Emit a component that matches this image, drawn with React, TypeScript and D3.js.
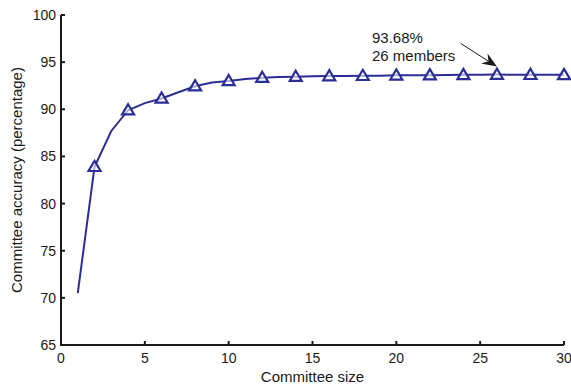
import React from "react";
import * as d3 from "d3";

// Committee size (members) and measured accuracy (%)
const committeeSizes = [1, 2, 3, 4, 5, 6, 7, 8, 9, 10, 11, 12, 13, 14, 15, 16, 17, 18, 19, 20, 21, 22, 23, 24, 25, 26, 27, 28, 29, 30];
const accuracy = [70.5, 83.9, 87.7, 89.9, 90.65, 91.15, 91.8, 92.45, 92.85, 93.0, 93.2, 93.35, 93.42, 93.45, 93.5, 93.52, 93.54, 93.55, 93.57, 93.6, 93.61, 93.62, 93.63, 93.65, 93.66, 93.68, 93.67, 93.66, 93.65, 93.65];
const xTicks = [0, 5, 10, 15, 20, 25, 30];
const yTicks = [65, 70, 75, 80, 85, 90, 95, 100];
const bestLabel = ["93.68%", "26 members"];
const bestSize = 26;

const W = 571;
const H = 385;
const margin = { left: 61, right: 7, top: 15, bottom: 40 };

export default function App() {
  const x = d3.scaleLinear().domain([0, 30]).range([margin.left, W - margin.right]);
  const y = d3.scaleLinear().domain([65, 100]).range([H - margin.bottom, margin.top]);
  const pts = committeeSizes.map((s, i) => [s, accuracy[i]] as [number, number]);
  const line = d3.line<[number, number]>().x((d) => x(d[0])).y((d) => y(d[1]));
  const markers = pts.filter((d) => d[0] % 2 === 0);
  const color = "#2b2e94";
  const ink = "#1a1a1a";
  const font = "Liberation Sans, Arial, Helvetica, sans-serif";
  const tri = (cx: number, cy: number) => {
    const r = 6;
    return `M${cx},${cy - r}L${cx + r},${cy + r * 0.7}L${cx - r},${cy + r * 0.7}Z`;
  };

  // arrow pointing at the best committee
  const bestIdx = committeeSizes.indexOf(bestSize);
  const bx = x(bestSize);
  const by = y(accuracy[bestIdx]) - 8;
  const ax0 = bx - 36;
  const ay0 = by - 23;
  const ang = Math.atan2(by - ay0, bx - ax0);
  const cos = Math.cos(ang);
  const sin = Math.sin(ang);
  const headLen = 15;
  const notch = 10;
  const headW = 6;
  const hx = bx - headLen * cos;
  const hy = by - headLen * sin;
  const nx = bx - notch * cos;
  const ny = by - notch * sin;
  const px = -sin * headW;
  const py = cos * headW;

  const x0 = x(0);
  const y0 = y(65);

  return (
    <svg width={W} height={H} style={{ position: "absolute", left: 0, top: 0 }} fontFamily={font}>
      <rect width={W} height={H} fill="#fff" />
      {/* axes */}
      <line x1={x0} x2={x(30)} y1={y0} y2={y0} stroke={ink} strokeWidth={2} />
      <line x1={x0} x2={x0} y1={y0 + 1} y2={y(100)} stroke={ink} strokeWidth={2} />
      {xTicks.map((t) => (
        <g key={"x" + t}>
          <line x1={x(t)} x2={x(t)} y1={y0} y2={y0 - 4} stroke={ink} strokeWidth={2} />
          <text x={x(t)} y={y0 + 18} textAnchor="middle" fontSize={14} fill={ink}>{t}</text>
        </g>
      ))}
      {yTicks.map((t) => (
        <g key={"y" + t}>
          <line x1={x0} x2={x0 + 4} y1={y(t)} y2={y(t)} stroke={ink} strokeWidth={2} />
          <text x={x0 - 5} y={y(t) + 5} textAnchor="end" fontSize={14} fill={ink}>{t}</text>
        </g>
      ))}
      <text x={(x0 + x(30)) / 2} y={H - 3} textAnchor="middle" fontSize={15} fill={ink}>Committee size</text>
      <text transform={`translate(22,${(y0 + y(100)) / 2}) rotate(-90)`} textAnchor="middle" fontSize={15} fill={ink}>
        Committee accuracy (percentage)
      </text>
      {/* accuracy curve */}
      <path d={line(pts) ?? ""} fill="none" stroke={color} strokeWidth={2} />
      {markers.map((d) => (
        <path key={d[0]} d={tri(x(d[0]), y(d[1]))} fill="#fff" fillOpacity={0.6} stroke={color} strokeWidth={2.2} strokeLinejoin="miter" />
      ))}
      {/* best committee annotation */}
      <text x={372} y={43} fontSize={15} fill={ink}>
        <tspan x={372}>{bestLabel[0]}</tspan>
        <tspan x={372} dy={18}>{bestLabel[1]}</tspan>
      </text>
      <line x1={ax0} y1={ay0} x2={nx} y2={ny} stroke={ink} strokeWidth={1} />
      <path d={`M${bx},${by}L${hx + px},${hy + py}L${nx},${ny}L${hx - px},${hy - py}Z`} fill={ink} />
    </svg>
  );
}
